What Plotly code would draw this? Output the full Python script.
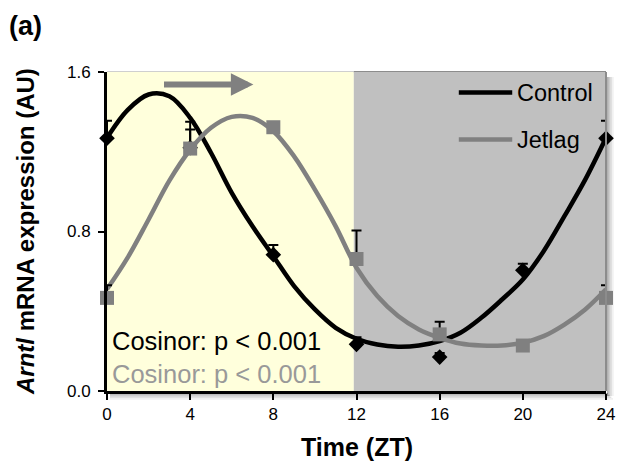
import plotly.graph_objects as go

# Sampling times (ZT, hours)
zt = [0, 4, 8, 12, 16, 20, 24]

# Arntl mRNA expression (AU), mean and SEM
control_mean = [1.268, 1.22, 0.684, 0.234, 0.170, 0.606, 1.268]
control_sem = [0.088, 0.130, 0.048, 0.035, 0.020, 0.032, 0.088]
jetlag_mean = [0.467, 1.216, 1.323, 0.662, 0.284, 0.228, 0.467]
jetlag_sem = [0.064, 0.096, 0.025, 0.143, 0.063, 0.020, 0.064]

# Cosinor fitted curves, sampled hourly
fit_zt = list(range(25))
control_fit = [1.270, 1.410, 1.487, 1.478, 1.370, 1.195, 0.994, 0.826, 0.676,
               0.526, 0.409, 0.317, 0.262, 0.233, 0.222, 0.228, 0.250, 0.292,
               0.367, 0.459, 0.559, 0.701, 0.877, 1.060, 1.270]
jetlag_fit = [0.510, 0.670, 0.860, 1.055, 1.210, 1.320, 1.375, 1.370, 1.303,
              1.177, 1.010, 0.826, 0.618, 0.476, 0.376, 0.309, 0.267, 0.238,
              0.228, 0.228, 0.242, 0.275, 0.333, 0.409, 0.510]

x_ticks = [0, 4, 8, 12, 16, 20, 24]
y_ticks = [0.0, 0.8, 1.6]
light_dark_edge = 11.87

W, H = 627, 467
ML, MR, MT, MB = 107, 15, 72, 76
PW, PH = W - ML - MR, H - MT - MB
FONT = "Liberation Sans, Arial, sans-serif"
GREY = "#808080"


def px_x(px):
    return (px - ML) / PW


def px_y(py):
    return (H - MB - py) / PH


fig = go.Figure()

fig.add_trace(go.Scatter(
    x=fit_zt, y=control_fit, mode="lines", line=dict(color="black", width=4.5, shape="spline", smoothing=1),
    cliponaxis=False, hoverinfo="skip", showlegend=False))
fig.add_trace(go.Scatter(
    x=fit_zt, y=jetlag_fit, mode="lines", line=dict(color=GREY, width=4.5, shape="spline", smoothing=1),
    cliponaxis=False, hoverinfo="skip", showlegend=False))

fig.add_trace(go.Scatter(
    x=zt, y=control_mean, mode="markers", name="Control",
    marker=dict(symbol="diamond", size=12, color="black"),
    error_y=dict(type="data", array=control_sem, arrayminus=[0] * len(zt), symmetric=False,
                 color="black", thickness=2, width=5),
    cliponaxis=False, showlegend=False))
fig.add_trace(go.Scatter(
    x=zt, y=jetlag_mean, mode="markers", name="Jetlag",
    marker=dict(symbol="square", size=14, color=GREY),
    error_y=dict(type="data", array=jetlag_sem, arrayminus=[0] * len(zt), symmetric=False,
                 color="black", thickness=2, width=5),
    cliponaxis=False, showlegend=False))

shapes = [
    # light / dark phases
    dict(type="rect", xref="x", yref="y", x0=0, x1=light_dark_edge, y0=0, y1=1.6,
         fillcolor="#FFFFDC", line_width=0, layer="below"),
    dict(type="rect", xref="x", yref="y", x0=light_dark_edge, x1=24, y0=0, y1=1.6,
         fillcolor="#C0C0C0", line_width=0, layer="below"),
    # plot frame
    dict(type="line", xref="x", yref="paper", x0=0, x1=light_dark_edge, y0=1, y1=1,
         line=dict(color="#CFCFCF", width=2), layer="below"),
    dict(type="line", xref="x", yref="paper", x0=light_dark_edge, x1=24, y0=1, y1=1,
         line=dict(color="#8C8C8C", width=2), layer="below"),
]
# soft drop shadow to the right and below the frame
for i, op in enumerate([0.30, 0.20, 0.12, 0.06]):
    shapes.append(dict(type="rect", xref="paper", yref="paper",
                       x0=px_x(613 + i * 1.7), x1=px_x(614.7 + i * 1.7),
                       y0=px_y(396), y1=px_y(77),
                       fillcolor="black", opacity=op, line_width=0, layer="below"))
    shapes.append(dict(type="rect", xref="paper", yref="paper",
                       x0=px_x(110), x1=px_x(614 + i * 1.7),
                       y0=px_y(393 + i * 1.7), y1=px_y(394.7 + i * 1.7),
                       fillcolor="black", opacity=op, line_width=0, layer="below"))
shapes.append(dict(type="line", xref="paper", yref="paper", x0=1, x1=1, y0=0, y1=1,
                   line=dict(color="#8C8C8C", width=2)))

# legend keys
legend_rows = [("Control", "black", 1.497), ("Jetlag", GREY, 1.261)]
for label, color, yv in legend_rows:
    shapes.append(dict(type="line", xref="x", yref="y", x0=16.92, x1=19.49, y0=yv, y1=yv,
                       line=dict(color=color, width=4.5)))

annotations = [
    dict(text="<b>(a)</b>", xref="paper", yref="paper", x=px_x(6), y=px_y(26),
         xanchor="left", yanchor="middle", showarrow=False, font=dict(size=27, color="black", family=FONT)),
    dict(text="<b><i>Arntl</i> mRNA expression (AU)</b>", xref="paper", yref="paper",
         x=px_x(24), y=px_y(231), textangle=-90, showarrow=False,
         xanchor="center", yanchor="middle", font=dict(size=24, color="black", family=FONT)),
    dict(text="<b>Time (ZT)</b>", xref="paper", yref="paper", x=0.5, y=px_y(447),
         showarrow=False, xanchor="center", yanchor="middle",
         font=dict(size=25, color="black", family=FONT)),
    dict(text="Cosinor: p &lt; 0.001", xref="x", yref="y", x=0.16, y=0.25,
         xanchor="left", yanchor="middle", showarrow=False,
         font=dict(size=25.5, color="black", family=FONT)),
    dict(text="Cosinor: p &lt; 0.001", xref="x", yref="y", x=0.16, y=0.083,
         xanchor="left", yanchor="middle", showarrow=False,
         font=dict(size=25.5, color="#999999", family=FONT)),
    # phase-shift arrow
    dict(x=7.04, y=1.537, ax=2.67, ay=1.537, xref="x", yref="y", axref="x", ayref="y",
         text="", showarrow=True, arrowhead=2, arrowsize=0.75, arrowwidth=6, arrowcolor=GREY),
]
for label, color, yv in legend_rows:
    annotations.append(dict(text=label, xref="x", yref="y", x=19.62, y=yv,
                            xanchor="left", yanchor="middle", showarrow=False,
                            font=dict(size=23.5, color="black", family=FONT)))

fig.update_layout(
    width=W, height=H,
    margin=dict(l=ML, r=MR, t=MT, b=MB),
    paper_bgcolor="white", plot_bgcolor="white",
    shapes=shapes, annotations=annotations,
    font=dict(family=FONT, color="black"),
)
fig.update_xaxes(range=[0, 24], tickvals=x_ticks, ticks="outside", ticklen=6, tickwidth=2,
                 tickcolor="black", showline=True, linecolor="black", linewidth=3,
                 showgrid=False, zeroline=False, tickfont=dict(size=17, color="black"))
fig.update_yaxes(range=[0, 1.6], tickvals=y_ticks, tickformat=".1f", ticks="outside", ticklen=6,
                 tickwidth=2, tickcolor="black", showline=True, linecolor="black", linewidth=3,
                 showgrid=False, zeroline=False, ticklabelstandoff=4,
                 tickfont=dict(size=17, color="black"))

fig.write_html("out.html")
